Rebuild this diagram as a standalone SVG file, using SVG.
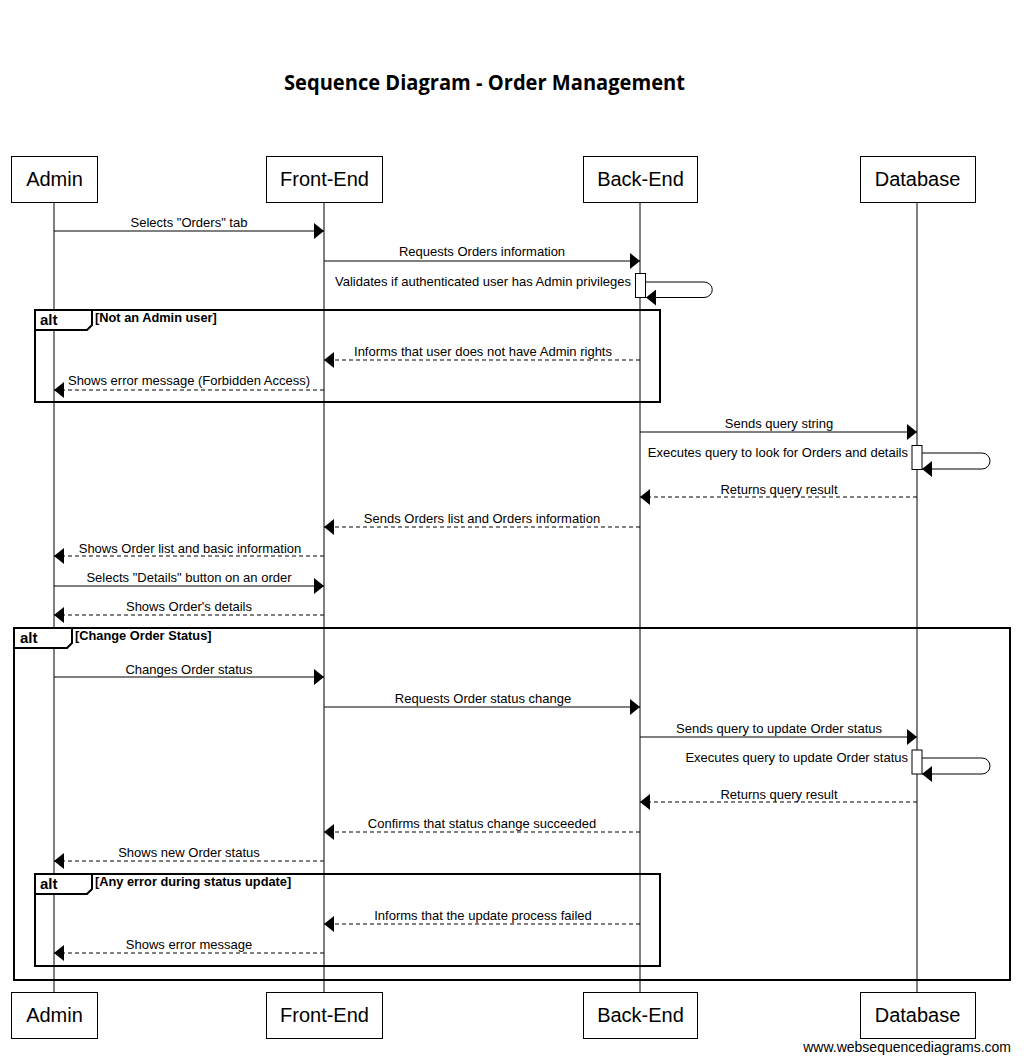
<svg xmlns="http://www.w3.org/2000/svg" width="1024" height="1060" viewBox="0 0 1024 1060">
<style>
.bg{fill:#fff}
.part rect{fill:#fff;stroke:#000;stroke-width:1}
.part text{font-family:"Liberation Sans",Arial,sans-serif;font-size:20px;text-anchor:middle;fill:#000}
.life{stroke:#000;stroke-width:1}
.msg{stroke:#000;stroke-width:1;fill:none}
.dash{stroke-dasharray:4,3}
.lbl{font-family:"Liberation Sans",Arial,sans-serif;font-size:13px;fill:#000;text-anchor:middle}
.lblr{font-family:"Liberation Sans",Arial,sans-serif;font-size:13px;fill:#000;text-anchor:end}
.frame{fill:none;stroke:#000;stroke-width:2}
.tab{fill:#fff;stroke:#000;stroke-width:2}
.alt{font-family:"Liberation Sans",Arial,sans-serif;font-size:15px;font-weight:bold;fill:#000}
.cond{font-family:"Liberation Sans",Arial,sans-serif;font-size:12.8px;font-weight:bold;fill:#000}
.act{fill:#fff;stroke:#000;stroke-width:1}
</style>
<defs>
<marker id="ah" markerUnits="userSpaceOnUse" markerWidth="10" markerHeight="16" refX="10" refY="8" orient="auto">
<path d="M0,0 L10,8 L0,16 z" fill="#000"/>
</marker>
</defs>
<rect class="bg" x="0" y="0" width="1024" height="1060"/>
<text x="484.5" y="90" font-family="'Open Sans','Liberation Sans',sans-serif" font-size="22" font-weight="bold" text-anchor="middle" textLength="401" lengthAdjust="spacingAndGlyphs">Sequence Diagram - Order Management</text>

<g id="lifelines">
<line class="life" x1="54" y1="202" x2="54" y2="992"/>
<line class="life" x1="324" y1="202" x2="324" y2="992"/>
<line class="life" x1="640" y1="202" x2="640" y2="992"/>
<line class="life" x1="917" y1="202" x2="917" y2="992"/>
</g>

<g id="frame-alt1">
<rect class="frame" x="35" y="310" width="625" height="92"/>
<path class="tab" d="M35,310 H92 V325 L87,330 H35 Z"/>
<text class="alt" x="40" y="325">alt</text>
<text class="cond" x="95" y="322">[Not an Admin user]</text>
</g>
<g id="frame-alt2">
<rect class="frame" x="14" y="628" width="996" height="352"/>
<path class="tab" d="M14,628 H72 V643 L67,648 H14 Z"/>
<text class="alt" x="20" y="643">alt</text>
<text class="cond" x="75" y="640">[Change Order Status]</text>
</g>
<g id="frame-alt3">
<rect class="frame" x="35" y="874" width="625" height="92"/>
<path class="tab" d="M35,874 H92 V889 L87,894 H35 Z"/>
<text class="alt" x="40" y="889">alt</text>
<text class="cond" x="95" y="886">[Any error during status update]</text>
</g>

<g id="activations">
<rect class="act" x="635.5" y="273.5" width="10" height="24"/>
<rect class="act" x="912" y="445.5" width="10" height="24"/>
<rect class="act" x="912" y="750" width="10" height="24"/>
</g>

<g id="connectors">
<line class="msg" x1="54" y1="231" x2="324" y2="231" marker-end="url(#ah)"/>
<text class="lbl" x="189" y="227">Selects "Orders" tab</text>
<line class="msg" x1="324" y1="261" x2="640" y2="261" marker-end="url(#ah)"/>
<text class="lbl" x="482" y="256">Requests Orders information</text>
<path class="msg" d="M646,282 H704 A8,7.5 0 0 1 704,297.5 H646" marker-end="url(#ah)"/>
<text class="lblr" x="631" y="286">Validates if authenticated user has Admin privileges</text>
<line class="msg dash" x1="640" y1="360" x2="324" y2="360" marker-end="url(#ah)"/>
<text class="lbl" x="483" y="356">Informs that user does not have Admin rights</text>
<line class="msg dash" x1="324" y1="390" x2="54" y2="390" marker-end="url(#ah)"/>
<text class="lbl" x="189" y="385">Shows error message (Forbidden Access)</text>
<line class="msg" x1="640" y1="432" x2="917" y2="432" marker-end="url(#ah)"/>
<text class="lbl" x="779" y="428">Sends query string</text>
<path class="msg" d="M922,453 H982 A8,8 0 0 1 982,469 H922" marker-end="url(#ah)"/>
<text class="lblr" x="908" y="457">Executes query to look for Orders and details</text>
<line class="msg dash" x1="917" y1="497" x2="640" y2="497" marker-end="url(#ah)"/>
<text class="lbl" x="779" y="494">Returns query result</text>
<line class="msg dash" x1="640" y1="527" x2="324" y2="527" marker-end="url(#ah)"/>
<text class="lbl" x="482" y="523">Sends Orders list and Orders information</text>
<line class="msg dash" x1="324" y1="556" x2="54" y2="556" marker-end="url(#ah)"/>
<text class="lbl" x="190" y="553">Shows Order list and basic information</text>
<line class="msg" x1="54" y1="586" x2="324" y2="586" marker-end="url(#ah)"/>
<text class="lbl" x="189" y="582">Selects "Details" button on an order</text>
<line class="msg dash" x1="324" y1="615" x2="54" y2="615" marker-end="url(#ah)"/>
<text class="lbl" x="189" y="611">Shows Order's details</text>
<line class="msg" x1="54" y1="677" x2="324" y2="677" marker-end="url(#ah)"/>
<text class="lbl" x="189" y="674">Changes Order status</text>
<line class="msg" x1="324" y1="707" x2="640" y2="707" marker-end="url(#ah)"/>
<text class="lbl" x="483" y="703">Requests Order status change</text>
<line class="msg" x1="640" y1="737" x2="917" y2="737" marker-end="url(#ah)"/>
<text class="lbl" x="779" y="733">Sends query to update Order status</text>
<path class="msg" d="M922,758 H982 A8,8 0 0 1 982,774 H922" marker-end="url(#ah)"/>
<text class="lblr" x="908" y="762">Executes query to update Order status</text>
<line class="msg dash" x1="917" y1="802" x2="640" y2="802" marker-end="url(#ah)"/>
<text class="lbl" x="779" y="799">Returns query result</text>
<line class="msg dash" x1="640" y1="832" x2="324" y2="832" marker-end="url(#ah)"/>
<text class="lbl" x="482" y="828">Confirms that status change succeeded</text>
<line class="msg dash" x1="324" y1="861" x2="54" y2="861" marker-end="url(#ah)"/>
<text class="lbl" x="189" y="857">Shows new Order status</text>
<line class="msg dash" x1="640" y1="924" x2="324" y2="924" marker-end="url(#ah)"/>
<text class="lbl" x="483" y="920">Informs that the update process failed</text>
<line class="msg dash" x1="324" y1="953" x2="54" y2="953" marker-end="url(#ah)"/>
<text class="lbl" x="189" y="949">Shows error message</text>
</g>

<g id="node-admin" class="part">
<rect x="11.5" y="156.5" width="86" height="46"/>
<text x="54.5" y="186">Admin</text>
<rect x="11.5" y="992.5" width="86" height="46"/>
<text x="54.5" y="1022">Admin</text>
</g>
<g id="node-frontend" class="part">
<rect x="266.5" y="156.5" width="116" height="46"/>
<text x="324.5" y="186">Front-End</text>
<rect x="266.5" y="992.5" width="116" height="46"/>
<text x="324.5" y="1022">Front-End</text>
</g>
<g id="node-backend" class="part">
<rect x="583.5" y="156.5" width="114" height="46"/>
<text x="640.5" y="186">Back-End</text>
<rect x="583.5" y="992.5" width="114" height="46"/>
<text x="640.5" y="1022">Back-End</text>
</g>
<g id="node-database" class="part">
<rect x="860.5" y="156.5" width="115" height="46"/>
<text x="917.5" y="186">Database</text>
<rect x="860.5" y="992.5" width="115" height="46"/>
<text x="917.5" y="1022">Database</text>
</g>

<text x="1011" y="1052" font-family="'Liberation Sans',Arial,sans-serif" font-size="14" text-anchor="end" fill="#000">www.websequencediagrams.com</text>
</svg>
